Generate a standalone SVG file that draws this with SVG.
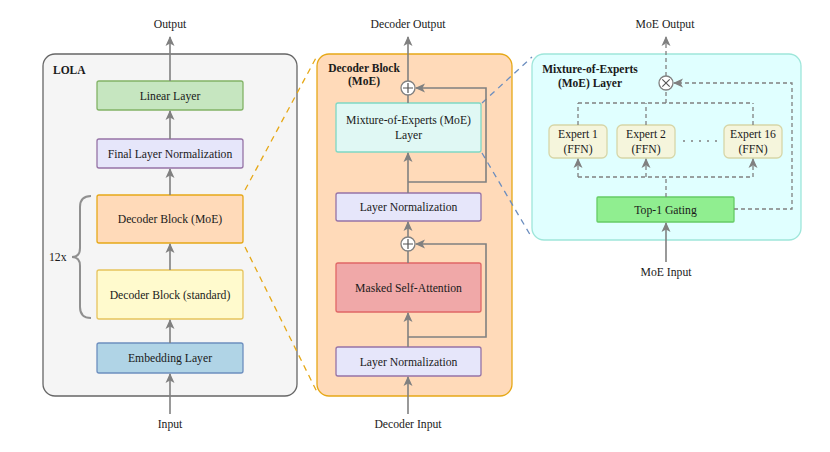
<svg xmlns="http://www.w3.org/2000/svg" width="830" height="452" viewBox="0 0 830 452">
<defs>
<marker id="ah" markerUnits="userSpaceOnUse" markerWidth="10" markerHeight="10" viewBox="0 0 10 10" refX="9" refY="5" orient="auto">
<path d="M0,0.5 L10,5 L0,9.5 L2.5,5 Z" fill="#808080"/>
</marker>
<style>
text{font-family:"Liberation Serif","Times New Roman",serif;font-size:11.7px;fill:#1a1a1a}
.c{text-anchor:middle}
.b{font-weight:bold;font-size:11.5px}
.box{stroke-width:1.3}
.ln{stroke:#808080;stroke-width:1.6;fill:none}
.dl{stroke:#808080;stroke-width:1.3;fill:none;stroke-dasharray:4 3}
.ar{marker-end:url(#ah)}
</style>
</defs>
<rect width="830" height="452" fill="#ffffff"/>

<!-- containers -->
<g id="lola">
<rect x="43" y="54" width="254" height="342" rx="12" fill="#f5f5f5" stroke="#666666" stroke-width="1.3"/>
<text x="53" y="74" class="b">LOLA</text>
</g>
<g id="decoder-block">
<rect x="317" y="54" width="195" height="342" rx="12" fill="#ffdab9" stroke="#e6a817" stroke-width="1.3"/>
<text x="364" y="72" class="b c">Decoder Block</text>
<text x="364" y="85" class="b c">(MoE)</text>
</g>
<g id="moe-layer">
<rect x="532" y="54" width="269" height="186" rx="12" fill="#e0ffff" stroke="#9ee6da" stroke-width="1.3"/>
<text x="590" y="73" class="b c">Mixture-of-Experts</text>
<text x="590" y="87" class="b c">(MoE) Layer</text>
</g>

<!-- zoom guide lines -->
<g id="guides" fill="none" stroke-width="1.3" stroke-dasharray="6 5">
<line x1="245" y1="190" x2="317" y2="56" stroke="#e6a817"/>
<line x1="245" y1="247" x2="317" y2="392" stroke="#e6a817"/>
<line x1="482" y1="103" x2="532" y2="57" stroke="#6c8ebf"/>
<line x1="482" y1="153" x2="532" y2="238" stroke="#6c8ebf"/>
</g>

<!-- LOLA nodes -->
<g id="linear"><rect x="97" y="81" width="146" height="29" rx="2" fill="#c6e6c0" stroke="#82b366" class="box"/><text x="170" y="99.5" class="c">Linear Layer</text></g>
<g id="final-ln"><rect x="97" y="139" width="146" height="29" rx="2" fill="#e6e6fa" stroke="#9673a6" class="box"/><text x="170" y="157.5" class="c">Final Layer Normalization</text></g>
<g id="dec-moe"><rect x="97" y="195" width="146" height="48" rx="2" fill="#ffdab9" stroke="#e6a817" class="box"/><text x="170" y="223" class="c">Decoder Block (MoE)</text></g>
<g id="dec-std"><rect x="97" y="270" width="146" height="49" rx="2" fill="#fffacd" stroke="#e6c35c" class="box"/><text x="170" y="298.5" class="c">Decoder Block (standard)</text></g>
<g id="embed"><rect x="97" y="343" width="146" height="30" rx="2" fill="#b0d4e6" stroke="#6c8ebf" class="box"/><text x="170" y="362" class="c">Embedding Layer</text></g>
<g id="brace"><path d="M91,196 Q80,196 80,207 L80,248 Q80,257 72,257 Q80,257 80,266 L80,307 Q80,318 91,318" fill="none" stroke="#909090" stroke-width="2"/><text x="49" y="261">12x</text></g>

<!-- Decoder nodes -->
<g id="moe-box"><rect x="336" y="103" width="145" height="49" rx="2" fill="#e0f8f4" stroke="#7fd8c4" class="box"/><text x="408.5" y="124" class="c">Mixture-of-Experts (MoE)</text><text x="408.5" y="139" class="c">Layer</text></g>
<g id="ln-upper"><rect x="336" y="193" width="145" height="28" rx="2" fill="#e6e6fa" stroke="#9673a6" class="box"/><text x="408.5" y="211" class="c">Layer Normalization</text></g>
<g id="msa"><rect x="336" y="263" width="145" height="49" rx="2" fill="#f0a8a8" stroke="#e06666" class="box"/><text x="408.5" y="291.5" class="c">Masked Self-Attention</text></g>
<g id="ln-lower"><rect x="336" y="347" width="145" height="29" rx="2" fill="#e6e6fa" stroke="#9673a6" class="box"/><text x="408.5" y="365.5" class="c">Layer Normalization</text></g>
<g id="add1"><circle cx="408" cy="88" r="7" fill="#ffffff" stroke="#808080" stroke-width="1.3"/><path d="M403,88 H413 M408,83 V93" stroke="#555555" stroke-width="1.2"/></g>
<g id="add2"><circle cx="408" cy="244" r="7" fill="#ffffff" stroke="#808080" stroke-width="1.3"/><path d="M403,244 H413 M408,239 V249" stroke="#555555" stroke-width="1.2"/></g>

<!-- MoE nodes -->
<g id="expert1"><rect x="549" y="125" width="58" height="33" rx="5" fill="#f5f5dc" stroke="#d6d6a8" class="box"/><text x="578" y="138" class="c">Expert 1</text><text x="578" y="153" class="c">(FFN)</text></g>
<g id="expert2"><rect x="617" y="125" width="58" height="33" rx="5" fill="#f5f5dc" stroke="#d6d6a8" class="box"/><text x="646" y="138" class="c">Expert 2</text><text x="646" y="153" class="c">(FFN)</text></g>
<g id="expert16"><rect x="724" y="125" width="58" height="33" rx="5" fill="#f5f5dc" stroke="#d6d6a8" class="box"/><text x="753" y="138" class="c">Expert 16</text><text x="753" y="153" class="c">(FFN)</text></g>
<g id="gating"><rect x="597" y="197" width="137" height="25" rx="1" fill="#90ee90" stroke="#66cc66" class="box"/><text x="665.5" y="213.5" class="c">Top-1 Gating</text></g>
<g id="mult"><circle cx="666" cy="83" r="7" fill="#ffffff" stroke="#808080" stroke-width="1.3"/><path d="M662.3,79.3 L669.7,86.7 M669.7,79.3 L662.3,86.7" stroke="#555555" stroke-width="1.1"/></g>

<!-- labels -->
<g id="labels">
<text x="170" y="28" class="c">Output</text>
<text x="170" y="428" class="c">Input</text>
<text x="408" y="28" class="c">Decoder Output</text>
<text x="408" y="428" class="c">Decoder Input</text>
<text x="665" y="28" class="c">MoE Output</text>
<text x="666" y="276" class="c">MoE Input</text>
</g>

<!-- connectors -->
<g id="connectors">
<line x1="170" y1="414" x2="170" y2="374" class="ln ar"/>
<line x1="170" y1="343" x2="170" y2="320" class="ln ar"/>
<line x1="170" y1="270" x2="170" y2="244" class="ln ar"/>
<line x1="170" y1="195" x2="170" y2="169" class="ln ar"/>
<line x1="170" y1="139" x2="170" y2="111" class="ln ar"/>
<line x1="170" y1="81" x2="170" y2="37" class="ln ar"/>

<line x1="408" y1="414" x2="408" y2="377" class="ln ar"/>
<line x1="408" y1="347" x2="408" y2="313" class="ln ar"/>
<polyline points="408,337 486,337 486,244 416,244" class="ln ar"/>
<line x1="408" y1="263" x2="408" y2="251" class="ln"/>
<line x1="408" y1="237" x2="408" y2="222" class="ln ar"/>
<line x1="408" y1="193" x2="408" y2="153" class="ln ar"/>
<polyline points="408,182 486,182 486,88 416,88" class="ln ar"/>
<line x1="408" y1="103" x2="408" y2="95" class="ln"/>
<line x1="408" y1="81" x2="408" y2="37" class="ln ar"/>

<line x1="666" y1="262" x2="666" y2="223" class="ln ar"/>
<line x1="666" y1="197" x2="666" y2="177" class="dl"/>
<line x1="578" y1="177" x2="753" y2="177" class="dl"/>
<line x1="578" y1="177" x2="578" y2="159" class="dl ar"/>
<line x1="646" y1="177" x2="646" y2="159" class="dl ar"/>
<line x1="753" y1="177" x2="753" y2="159" class="dl ar"/>
<line x1="578" y1="125" x2="578" y2="103" class="dl"/>
<line x1="646" y1="125" x2="646" y2="103" class="dl"/>
<line x1="753" y1="125" x2="753" y2="103" class="dl"/>
<line x1="578" y1="103" x2="753" y2="103" class="dl"/>
<line x1="666" y1="103" x2="666" y2="90" class="dl"/>
<line x1="666" y1="76" x2="666" y2="37" class="dl ar"/>
<polyline points="734,209 792,209 792,83 674,83" class="dl ar"/>
<line x1="683" y1="141" x2="718" y2="141" stroke="#808080" stroke-width="1.6" stroke-dasharray="2 6"/>
</g>
</svg>
